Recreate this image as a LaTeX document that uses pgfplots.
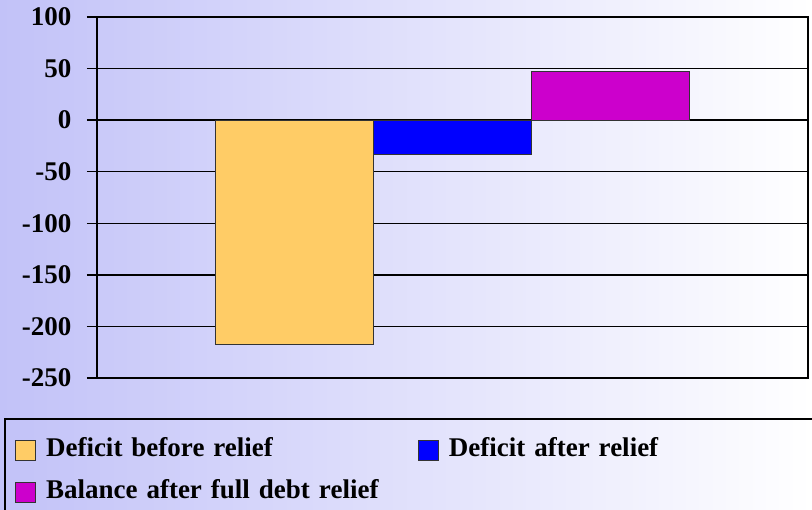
\documentclass[border=0pt]{standalone}
\usepackage{pgfplots}
\pgfplotsset{compat=1.18}
\usepackage{fontspec}
\setmainfont{Liberation Serif}
\definecolor{bgl}{HTML}{C2C2F8}
\definecolor{cOrange}{HTML}{FFCC66}
\definecolor{cBlue}{HTML}{0000FF}
\definecolor{cMag}{HTML}{CC00CC}
\begin{document}
\begin{tikzpicture}[x=1pt,y=1pt]
\useasboundingbox (0,0) rectangle (812,510);
\clip (0,0) rectangle (812,510);
\shade[left color=bgl, right color=white] (0,0) rectangle (812,510);
\draw[line width=1.5pt] (5,-20) -- (5,91) -- (840,91);
\begin{axis}[
  at={(97pt,132pt)}, anchor=south west, scale only axis,
  width=711pt, height=361pt,
  xmin=-1, xmax=1, ymin=-250, ymax=100,
  ytick={-250,-200,...,100}, xtick=\empty,
  ymajorgrids, grid style={black, line width=1.4pt},
  axis line style={black, line width=1.6pt},
  every tick/.style={black, line width=1.4pt},
  major tick length=10pt, tick align=outside, ytick pos=left,
  yticklabel style={font=\fontsize{27}{27}\selectfont\bfseries, xshift=-12pt},
  /pgf/number format/assume math mode=true,
  ybar, bar width=0.4444,
  legend columns=2,
  legend cell align=left,
  legend image code/.code={\draw[#1, line width=0.8pt] (0pt,-10pt) rectangle (20pt,10pt); \path (30pt,0pt);},
  legend style={at={(-0.1195,-0.1617)}, anchor=north west, draw=none, fill=none,
    font=\fontsize{27}{27}\selectfont\bfseries,
    nodes={text width=372pt, align=left, text height=18pt, text depth=6pt, inner sep=0pt},
    row sep=18pt, column sep=0pt},
]
\addplot[fill=cOrange, draw=black!80, line width=0.8pt, bar shift=-0.4444] coordinates {(0,-217)};
\addlegendentry{Deficit before relief}
\addplot[fill=cBlue, draw=black!80, line width=0.8pt, bar shift=0] coordinates {(0,-33)};
\addlegendentry{Deficit after relief}
\addplot[fill=cMag, draw=black!80, line width=0.8pt, bar shift=0.4444] coordinates {(0,47)};
\addlegendentry{Balance after full debt relief}
\end{axis}
\end{tikzpicture}
\end{document}
